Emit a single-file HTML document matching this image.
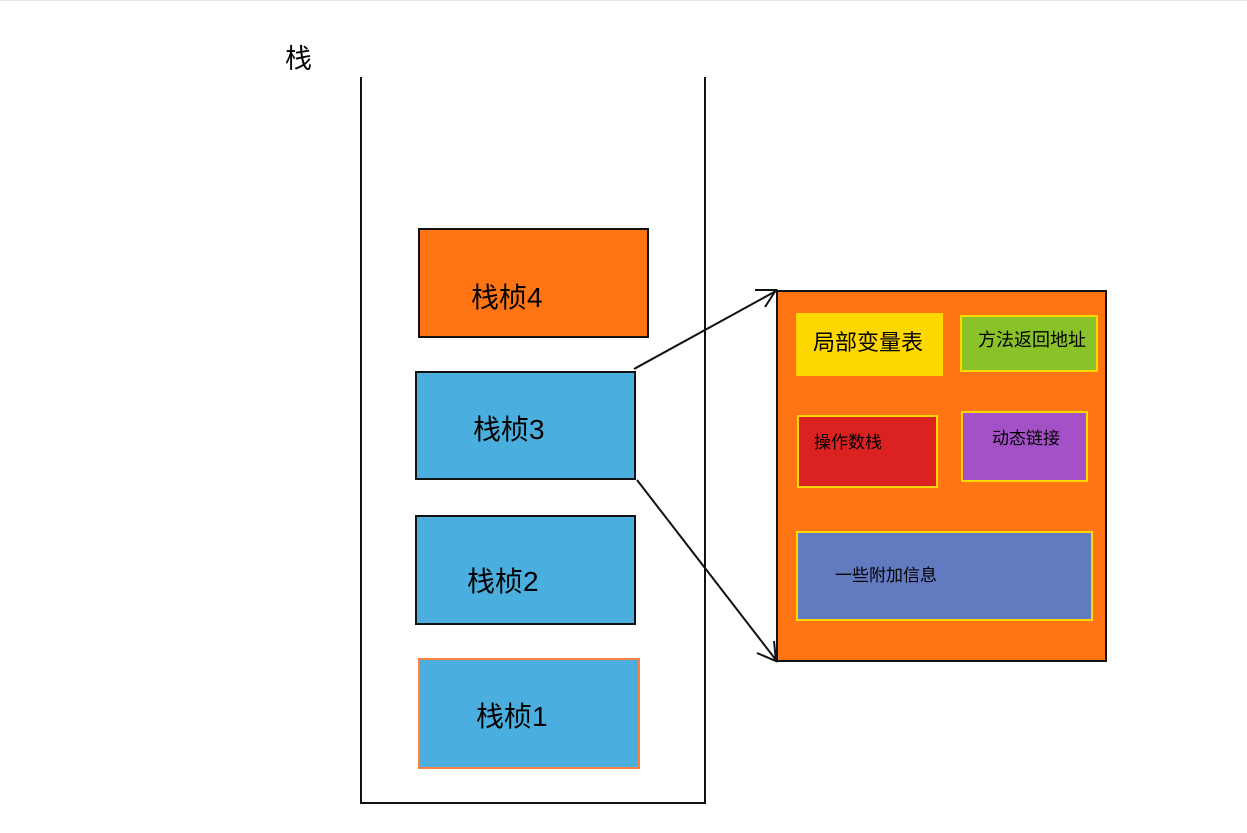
<!DOCTYPE html>
<html><head><meta charset="utf-8"><style>
body{margin:0;width:1247px;height:833px;background:#fff;position:relative;overflow:hidden;font-family:"Liberation Sans","Noto Sans CJK SC",sans-serif;}
.b{position:absolute;box-sizing:border-box;color:#000;}
.f{font-size:28px;}
</style></head><body>
<div class="b" style="left:0;top:0;width:1247px;height:1px;background:#e6e6e6"></div>
<div class="b" style="left:285px;top:37px;font-size:27px">栈</div>
<div class="b" style="left:360px;top:77px;width:346px;height:727px;border:2px solid #111;border-top:none"></div>
<div class="b f" style="left:418px;top:228px;width:231px;height:110px;background:#FF7514;border:2px solid #111"><span style="position:absolute;left:51px;top:54px;line-height:1">栈桢4</span></div>
<div class="b f" style="left:415px;top:371px;width:221px;height:109px;background:#4AAFDE;border:2px solid #111"><span style="position:absolute;left:56px;top:43px;line-height:1">栈桢3</span></div>
<div class="b f" style="left:415px;top:515px;width:221px;height:110px;background:#4AAFDE;border:2px solid #111"><span style="position:absolute;left:50px;top:51px;line-height:1">栈桢2</span></div>
<div class="b f" style="left:418px;top:658px;width:222px;height:111px;background:#4AAFDE;border:2px solid #FF8040"><span style="position:absolute;left:56px;top:43px;line-height:1">栈桢1</span></div>
<div class="b" style="left:776px;top:290px;width:331px;height:372px;background:#FF7514;border:2px solid #111"></div>
<div class="b" style="left:796px;top:313px;width:147px;height:63px;background:#FFD800"><span style="position:absolute;left:17px;top:19px;font-size:22px;line-height:1">局部变量表</span></div>
<div class="b" style="left:960px;top:315px;width:138px;height:57px;background:#8AC22A;border:2px solid #FFD800"><span style="position:absolute;left:16px;top:14px;font-size:18px;line-height:1">方法返回地址</span></div>
<div class="b" style="left:797px;top:415px;width:141px;height:73px;background:#DC2121;border:2px solid #FFD800"><span style="position:absolute;left:15px;top:17px;font-size:17px;line-height:1">操作数栈</span></div>
<div class="b" style="left:961px;top:411px;width:127px;height:71px;background:#A450C6;border:2px solid #FFD800"><span style="position:absolute;left:29px;top:17px;font-size:17px;line-height:1">动态链接</span></div>
<div class="b" style="left:796px;top:531px;width:297px;height:90px;background:#627AC0;border:2px solid #FFD800"><span style="position:absolute;left:37px;top:34px;font-size:17px;line-height:1">一些附加信息</span></div>
<svg style="position:absolute;left:0;top:0" width="1247" height="833">
<g stroke="#111" stroke-width="2" fill="none">
<line x1="634" y1="369" x2="776" y2="291"/>
<polyline points="755,290 776,290 765,307"/>
<line x1="637" y1="480" x2="776" y2="660"/>
<polyline points="757,653 776,661 774,641"/>
</g></svg>
</body></html>
